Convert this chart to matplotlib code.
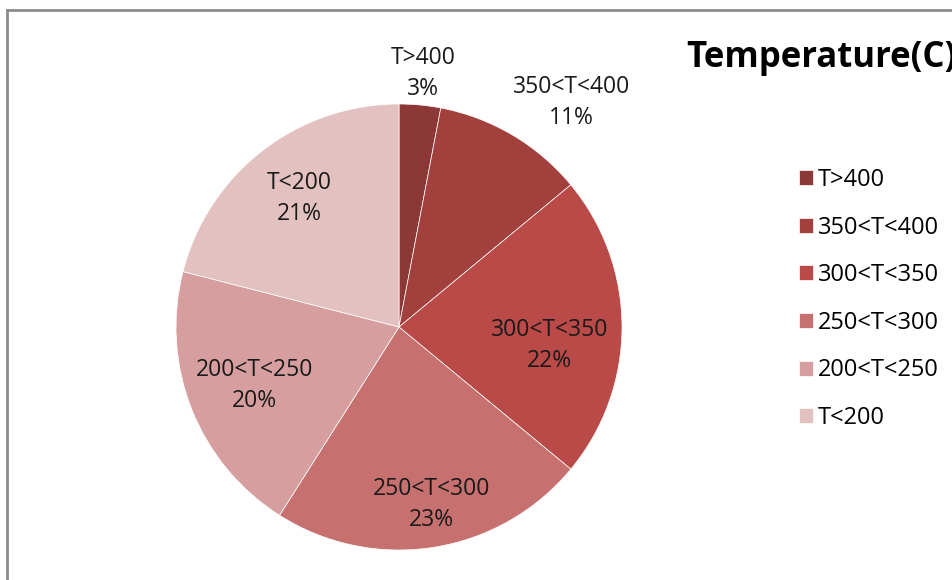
import matplotlib.pyplot as plt
from matplotlib.lines import Line2D
import numpy as np

# data
categories = ["T>400", "350<T<400", "300<T<350", "250<T<300", "200<T<250", "T<200"]
shares = [3, 11, 22, 23, 20, 21]
colors = ["#8c3836", "#a2403d", "#b94a48", "#c6706f", "#d69e9e", "#e3c1c1"]

# label placement (fraction of radius, angle shift in degrees)
label_dist = [1.14, 1.27, 0.68, 0.81, 0.70, 0.73]
label_shift = [0, -7, -7, 1.5, 0.5, 0]

W, H = 953, 580
plt.rcParams['font.family'] = ['Open Sans', 'DejaVu Sans']

fig = plt.figure(figsize=(W / 100, H / 100), dpi=100)
ax = fig.add_axes([0, 0, 1, 1])

cx, cy, r = 399, H - 327, 223
wedges, _ = ax.pie(shares, colors=colors, startangle=90, counterclock=False,
                   center=(cx, cy), radius=r,
                   wedgeprops=dict(edgecolor="white", linewidth=0.5))
ax.set_xlim(0, W)
ax.set_ylim(0, H)
ax.set_aspect("auto")
ax.axis("off")

# data labels
for w, lab, pct, d, s in zip(wedges, categories, shares, label_dist, label_shift):
    mid = np.deg2rad((w.theta1 + w.theta2) / 2 + s)
    x = cx + d * r * np.cos(mid)
    y = cy + d * r * np.sin(mid)
    ax.text(x, y, f"{lab}\n{pct}%", ha="center", va="center",
            fontsize=16.5, linespacing=1.38, color="#1a1a1a")

# title
fig.text(686 / W, 1 - 67 / H, "Temperature(C)", fontsize=25, fontweight="bold",
         ha="left", va="baseline", color="black")

# legend
ax.legend(wedges, categories, loc="upper left",
          bbox_to_anchor=(799 / W, 1 - 168 / H), bbox_transform=fig.transFigure,
          frameon=False, fontsize=17, handlelength=0.6, handleheight=0.6,
          handletextpad=0.2, labelspacing=1.0, borderpad=0, borderaxespad=0)

# chart area border (top and left visible)
fig.add_artist(Line2D([7 / W, 7 / W], [0, 1 - 10 / H], color="#8c8c8c", lw=2))
fig.add_artist(Line2D([7 / W, 1], [1 - 10 / H, 1 - 10 / H], color="#8c8c8c", lw=2))

fig.savefig("out.png", dpi=100)
